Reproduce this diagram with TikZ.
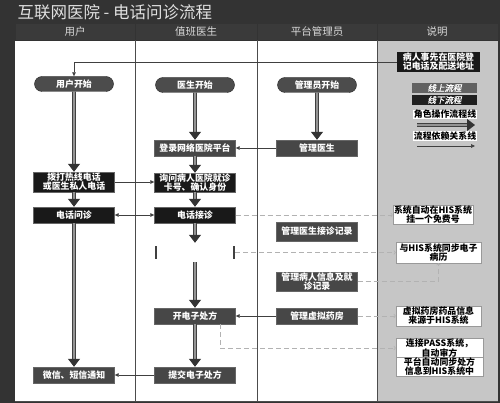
\documentclass[tikz,border=0pt]{standalone}
\usepackage{fontspec}
\setmainfont{Noto Sans CJK SC}
\newfontfamily\slcjk{Noto Sans CJK SC}[FakeSlant=0.2, FakeBold=1]
\usetikzlibrary{shapes.misc,arrows.meta}
\definecolor{bgdark}{HTML}{333333}
\definecolor{hdr}{HTML}{3A3A3A}
\definecolor{legbg}{HTML}{C6C6C6}
\tikzset{
  fnt/.style={font=\fontsize{8.9}{9.2}\selectfont\bfseries},
  box/.style={rectangle, fnt, text=white, align=center, inner sep=0.5pt, minimum width=81pt, minimum height=16pt, draw=black!60},
  blk/.style={box, fill=black!90},
  dgr/.style={box, fill=black!72},
  pill/.style={rounded rectangle, fnt, fill=black!70, draw=black!85, text=white, minimum width=81pt, minimum height=15pt, inner sep=1pt},
  note/.style={rectangle, fnt, fill=white, draw=black!40, text=black, align=center, inner sep=0.5pt},
  flow/.style={draw=black!75, double=black!42, double distance=1.7pt, line width=1pt, -{Triangle[length=8pt,width=12pt,color=black!80]}},
  dep/.style={draw=black!75, line width=0.6pt, -{Triangle[length=4pt,width=3.6pt]}},
  dep2/.style={draw=black!75, line width=0.6pt, {Triangle[length=4pt,width=3.6pt]}-{Triangle[length=4pt,width=3.6pt]}},
  dsh/.style={draw=black!30, line width=0.7pt, dash pattern=on 5pt off 3pt, -{Straight Barb[length=1.5pt,width=4pt]}},
  hdrtxt/.style={text=black!15, font=\fontsize{10.5}{11}\selectfont},
  lg/.style={rectangle, text=white, minimum width=65pt, minimum height=10pt, inner sep=0pt, font=\fontsize{8.5}{8.5}\slcjk},
}
\begin{document}
\begin{tikzpicture}[x=1pt,y=-1pt]
\useasboundingbox (0,0) rectangle (500,403);
% backgrounds
\fill[bgdark] (0,0) rectangle (500,403);
\fill[hdr] (15,23) rectangle (498,40);
\fill[white] (15,40) rectangle (377,401);
\fill[legbg] (377,40) rectangle (498,401);
\draw[black!80, line width=0.6pt] (15,23) rectangle (498,40);
\foreach \x in {135,257,377}{ \draw[black!80, line width=0.6pt] (\x,23) -- (\x,40); }
\foreach \x in {135,257,377}{ \draw[black!70, line width=0.7pt] (\x,40) -- (\x,401); }
\draw[black!70, line width=0.7pt] (15,401) -- (498,401);
% title and headers
\node[anchor=west, text=black!12, font=\fontsize{16.5}{17}\selectfont] (title) at (14,12.5) {互联网医院 - 电话问诊流程};
\node[hdrtxt] (h1) at (75,31.5) {用户};
\node[hdrtxt] (h2) at (196,31.5) {值班医生};
\node[hdrtxt] (h3) at (317,31.5) {平台管理员};
\node[hdrtxt] (h4) at (437,31.5) {说明};
% user column
\node[pill] (u0) at (74,84) {用户开始};
\node[blk, minimum height=20pt] (u1) at (74,182) {拨打热线电话\\或医生私人电话};
\node[blk] (u2) at (74,215) {电话问诊};
\node[dgr] (u3) at (74,375) {微信、短信通知};
% doctor column
\node[pill] (d0) at (195,85) {医生开始};
\node[dgr] (d1) at (195,148) {登录网络医院平台};
\node[blk, minimum height=19pt] (d2) at (195,182.5) {询问病人医院就诊\\卡号、确认身份};
\node[blk] (d3) at (195,215) {电话接诊};
\node[rectangle, fill=white, minimum width=80pt, minimum height=19pt, inner sep=0pt] (d4) at (195,252.5) {};
\fill[black!75] ([xshift=0pt,yshift=-6.5pt]d4.west) rectangle ([xshift=2.5pt,yshift=6.5pt]d4.west);
\fill[black!75] ([xshift=-2.5pt,yshift=-6.5pt]d4.east) rectangle ([xshift=0pt,yshift=6.5pt]d4.east);
\node[dgr] (d5) at (195,316) {开电子处方};
\node[dgr] (d6) at (195,375) {提交电子处方};
% admin column
\node[pill] (a0) at (317,85) {管理员开始};
\node[dgr] (a1) at (317,148) {管理医生};
\node[dgr, minimum height=19pt] (a2) at (317,231.5) {管理医生接诊记录};
\node[dgr, minimum height=18pt] (a3) at (317,281.5) {管理病人信息及就\\诊记录};
\node[dgr] (a4) at (317,316) {管理虚拟药房};
% legend column
\node[rectangle, fill=black!90, text=white, fnt, align=center, minimum width=83pt, minimum height=20pt, inner sep=0.5pt] (n0) at (438.5,62) {病人事先在医院登\\记电话及配送地址};
\node[lg, fill=black!62] (l1) at (444.5,88) {线上流程};
\node[lg, fill=black!88] (l2) at (444.5,100) {线下流程};
\node[fill=white, inner sep=0.5pt, text=black, fnt] (l3) at (445,114.5) {角色操作流程线};
\coordinate (l3a) at (417,125);
\coordinate (l3b) at (475,125);
\node[fill=white, inner sep=0.5pt, text=black, fnt] (l4) at (445,136) {流程依赖关系线};
\coordinate (l4a) at (417,146);
\coordinate (l4b) at (475,146);
\node[note, minimum width=80pt, minimum height=19pt] (n1) at (433,214.5) {系统自动在HIS系统\\挂一个免费号};
\node[note, minimum width=85pt, minimum height=21pt] (n2) at (438.5,252.5) {与HIS系统同步电子\\病历};
\node[note, minimum width=85pt, minimum height=20pt] (n3) at (438.5,316) {虚拟药房药品信息\\来源于HIS系统};
\node[note, minimum width=87pt, minimum height=18pt] (n4) at (439.5,348) {连接PASS系统，\\自动审方};
\node[note, minimum width=87pt, minimum height=19pt] (n5) at (439.5,366.5) {平台自动同步处方\\信息到HIS系统中};
% thick role flow arrows
\draw[flow] (u0) -- (u1);
\draw[flow] (u1) -- (u2);
\draw[flow] (u2) -- (u3);
\draw[flow] (d0) -- (d1);
\draw[flow] (d1) -- (d2);
\draw[flow] (d2) -- (d3);
\draw[flow] (d3) -- (d4);
\draw[flow] (d4) -- (d5);
\draw[flow] (d5) -- (d6);
\draw[flow] (a0) -- (a1);
\draw[flow] (l3a) -- (l3b);
% dependency arrows
\draw[dep] (n0.west) -| (u0.north);
\draw[dep] (a1.west) -- (d1.east);
\draw[dep] (u1.east) -- (u1.east -| d2.west);
\draw[dep2] (u2.east) -- (d3.west);
\draw[dep] (d6.west) -- (u3.east);
\draw[dep] (a4.west) -- (d5.east);
\draw[dep] (l4a) -- (l4b);
% dashed links
\draw[dsh] (d3.east) -- (d3.east -| n1.west);
\draw[dsh] (d4.east) -- (n2.west);
\draw[dsh] (a3.east) -| (n2.south);
\draw[dsh] (a4.east) -- (n3.west);
\draw[dsh] ([xshift=25pt]d5.south) |- (n4.west);
\end{tikzpicture}
\end{document}
